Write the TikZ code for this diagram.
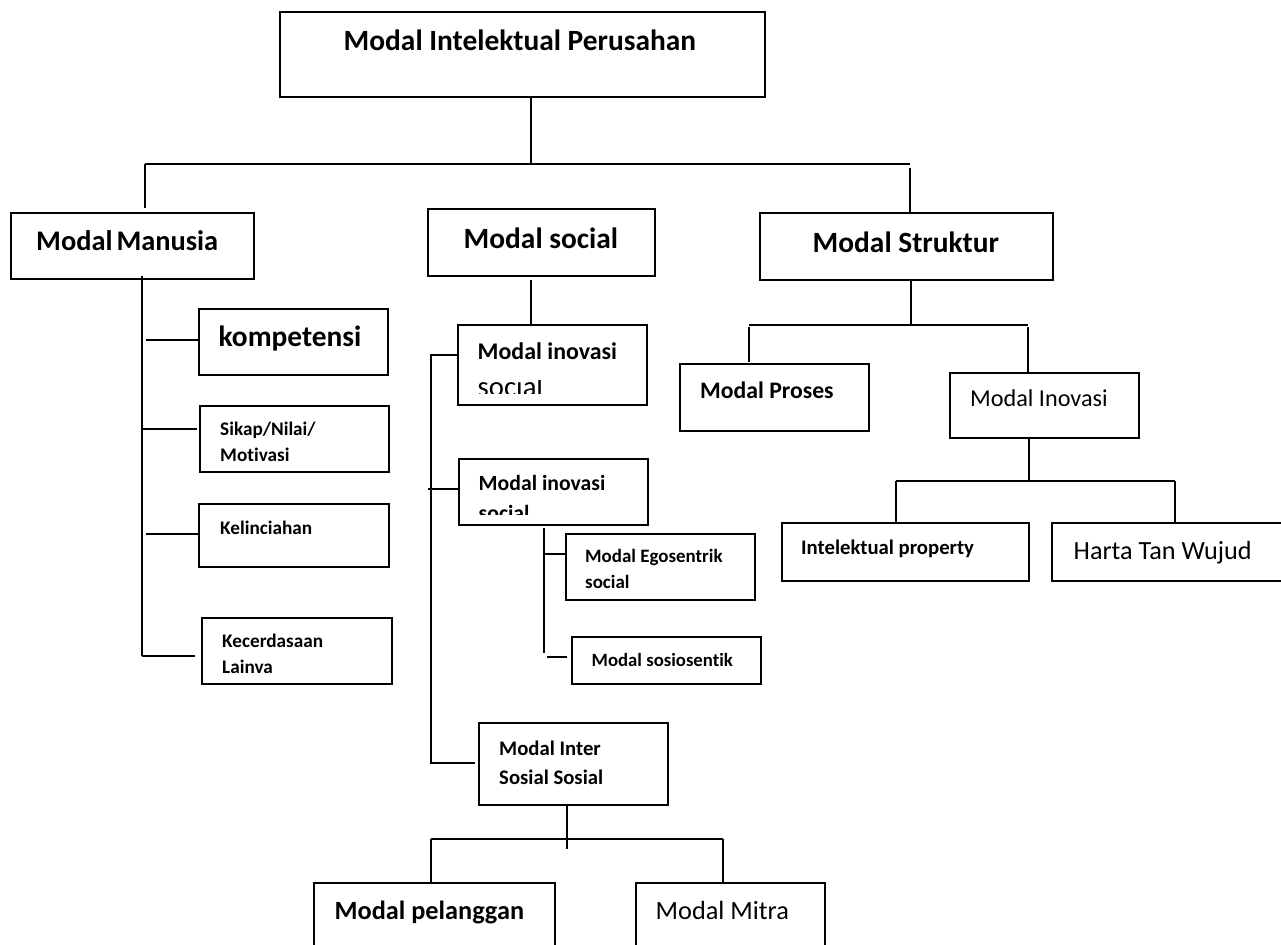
\documentclass[tikz,border=0pt]{standalone}
\usepackage{fontspec}
\setmainfont{Carlito}[Ligatures=NoCommon]
\usetikzlibrary{fit,calc}
\newcommand\szf[1]{\fontsize{#1}{#1}\selectfont}
\begin{document}
\begin{tikzpicture}[x=1bp,y=-1bp,
  box/.style={draw, line width=2bp, inner sep=0pt, rectangle},
  link/.style={draw, line width=2bp},
  lbl/.style={inner sep=0pt, anchor=base west},
  big/.style={lbl, font=\szf{29.5}\bfseries},
  mid/.style={lbl, font=\szf{24}\bfseries},
  small/.style={lbl, font=\szf{19.3}\bfseries},
]
\useasboundingbox (0,0) rectangle (1281,945);
\clip (0,0) rectangle (1281,945);
\fill[white] (0,0) rectangle (1281,945);

% ---------- boxes ----------
\node[box, fit={(279.5,12) (765,97)}] (top) {};
\node[box, fit={(10.5,212.5) (254,279)}] (manusia) {};
\node[box, fit={(427.5,209) (655,276)}] (social) {};
\node[box, fit={(760,213) (1053,280)}] (struktur) {};

\node[box, fit={(199,309) (388,375)}] (komp) {};
\node[box, fit={(200,405.7) (389,471.7)}] (sikap) {};
\node[box, fit={(199,504) (389,567)}] (kelin) {};
\node[box, fit={(202,618) (392,684)}] (kecer) {};

\node[box, fit={(458,325) (646.7,405)}] (inov1) {};
\node[box, fit={(459.3,459) (648.3,525)}] (inov2) {};
\node[box, fit={(566,534) (755,600)}] (ego) {};
\node[box, fit={(571.7,636.7) (760.7,684.3)}] (sosio) {};
\node[box, fit={(478.6,723.3) (668,805)}] (inter) {};
\node[box, fit={(314,882.5) (555,965)}] (pel) {};
\node[box, fit={(636,882.5) (825,965)}] (mitra) {};

\node[box, fit={(680,364) (869,431)}] (proses) {};
\node[box, fit={(950,372.7) (1139,438)}] (inovasi) {};
\node[box, fit={(781.7,523) (1029,581)}] (intprop) {};
\node[box, fit={(1052.3,523.3) (1300,581)}] (harta) {};

% ---------- labels ----------
\node[big] (tTop) at (343.5,50) {Modal Intelektual Perusahan};
\node[lbl, font=\szf{28.5}\bfseries] (tManusia) at (36,250) {Modal\hspace{4bp}Manusia};
\node[big] (tSocial) at (463.5,248) {Modal social};
\node[big] (tStruktur) at (812.5,252) {Modal Struktur};

\node[big] (tKomp) at (218.5,346) {kompetensi};
\node[small] (tSikapA) at (220,435) {Sikap/Nilai/};
\node[small] (tSikapB) at (220,461) {Motivasi};
\node[small] (tKelin) at (220,534) {Kelinciahan};
\node[small] (tKecerA) at (222,647) {Kecerdasaan};
\node[small] (tKecerB) at (222,673) {Lainva};

\node[mid] (tInovA) at (477.5,359) {Modal inovasi};
\begin{scope}
  \clip (460,380) rectangle (640,393.5);
  \node[lbl, font=\szf{28.8}] (tInovB) at (477.5,396) {social};
\end{scope}
\node[lbl, font=\szf{21.8}\bfseries] (tInovC) at (478.5,490) {Modal inovasi};
\begin{scope}
  \clip (461,500) rectangle (640,514);
  \node[lbl, font=\szf{21.8}\bfseries] (tInovD) at (478.5,520) {social};
\end{scope}
\node[lbl, font=\szf{19}\bfseries] (tEgoA) at (585,562.7) {Modal Egosentrik};
\node[lbl, font=\szf{19}\bfseries] (tEgoB) at (585,588) {social};
\node[lbl, font=\szf{18.8}\bfseries] (tSosio) at (591.5,666) {Modal sosiosentik};
\node[lbl, font=\szf{20.8}\bfseries] (tInterA) at (499,755) {Modal Inter};
\node[lbl, font=\szf{20.8}\bfseries] (tInterB) at (499,784) {Sosial Sosial};
\node[lbl, font=\szf{26.4}\bfseries] (tPel) at (334.5,919) {Modal pelanggan};
\node[lbl, font=\szf{26.4}] (tMitra) at (655.5,919) {Modal Mitra};

\node[lbl, font=\szf{23.8}\bfseries] (tProses) at (700,398) {Modal Proses};
\node[lbl, font=\szf{24.3}] (tInovasi) at (970,406) {Modal Inovasi};
\node[lbl, font=\szf{20.8}\bfseries] (tIntprop) at (801,554) {Intelektual property};
\node[lbl, font=\szf{26.3}] (tHarta) at (1073.5,559) {Harta Tan Wujud};

% ---------- connectors ----------
% title to the three main branches
\coordinate (busT) at (531,164);
\coordinate (busTL) at (145,164);
\coordinate (busTR) at (909.5,164);
\draw[link] (top.south -| busT) -- (busT);
\draw[link] (busTL) -- (busTR);
\draw[link] (busTL) -- ($(busTL |- manusia.north)+(0,-4)$);
\draw[link] ($(busTR)+(0,4)$) -- (busTR |- struktur.north);

% Modal Manusia spine and its four items
\coordinate (spM) at (142,656);
\coordinate (mK) at (145.5,340);
\coordinate (mS) at (143,429);
\coordinate (mL) at (145.5,534);
\draw[link] ($(spM |- manusia.south)+(0,-4)$) -- (spM);
\draw[link] (mK) -- (mK -| komp.west);
\draw[link] (mS) -- ($(mS -| sikap.west)+(-2,0)$);
\draw[link] (mL) -- (mL -| kelin.west);
\draw[link] (spM) -- ($(spM -| kecer.west)+(-6,0)$);

% Modal social branch
\coordinate (sD) at (531,324);
\coordinate (sS1) at (430.7,355);
\coordinate (sS2) at (430.7,763);
\coordinate (sB2) at (428,489);
\draw[link] ($(sD |- social.south)+(0,3)$) -- (sD |- inov1.north);
\draw[link] (sS1 -| inov1.west) -- (sS1) -- (sS2) -- ($(sS2 -| inter.west)+(-3,0)$);
\draw[link] (sB2) -- (sB2 -| inov2.west);

\coordinate (sub) at (544,653);
\coordinate (e1) at (544,554);
\coordinate (e2) at (546.7,656.7);
\draw[link] ($(sub |- inov2.south)+(0,2)$) -- (sub);
\draw[link] (e1) -- (e1 -| ego.west);
\draw[link] (e2) -- ($(e2 -| sosio.west)+(-3.5,0)$);

\coordinate (iD) at (567,849);
\coordinate (iL) at (431,839);
\coordinate (iR) at (722.5,839);
\draw[link] (iD |- inter.south) -- (iD);
\draw[link] (iL) -- (iR);
\draw[link] (iL) -- (iL |- pel.north);
\draw[link] (iR) -- (iR |- mitra.north);

% Modal Struktur branch
\coordinate (kD) at (910.7,325);
\coordinate (kL) at (749,325);
\coordinate (kR) at (1027.5,325);
\draw[link] (kD |- struktur.south) -- (kD);
\draw[link] (kL) -- (kR);
\draw[link] ($(kL)+(0,2)$) -- ($(kL |- proses.north)+(0,-1)$);
\draw[link] ($(kR)+(0,2)$) -- (kR |- inovasi.north);

\coordinate (vD) at (1029,481);
\coordinate (vL) at (896,481);
\coordinate (vR) at (1174.5,481);
\draw[link] (vD |- inovasi.south) -- (vD);
\draw[link] (vL) -- (vR);
\draw[link] (vL) -- (vL |- intprop.north);
\draw[link] (vR) -- (vR |- harta.north);
\end{tikzpicture}
\end{document}
